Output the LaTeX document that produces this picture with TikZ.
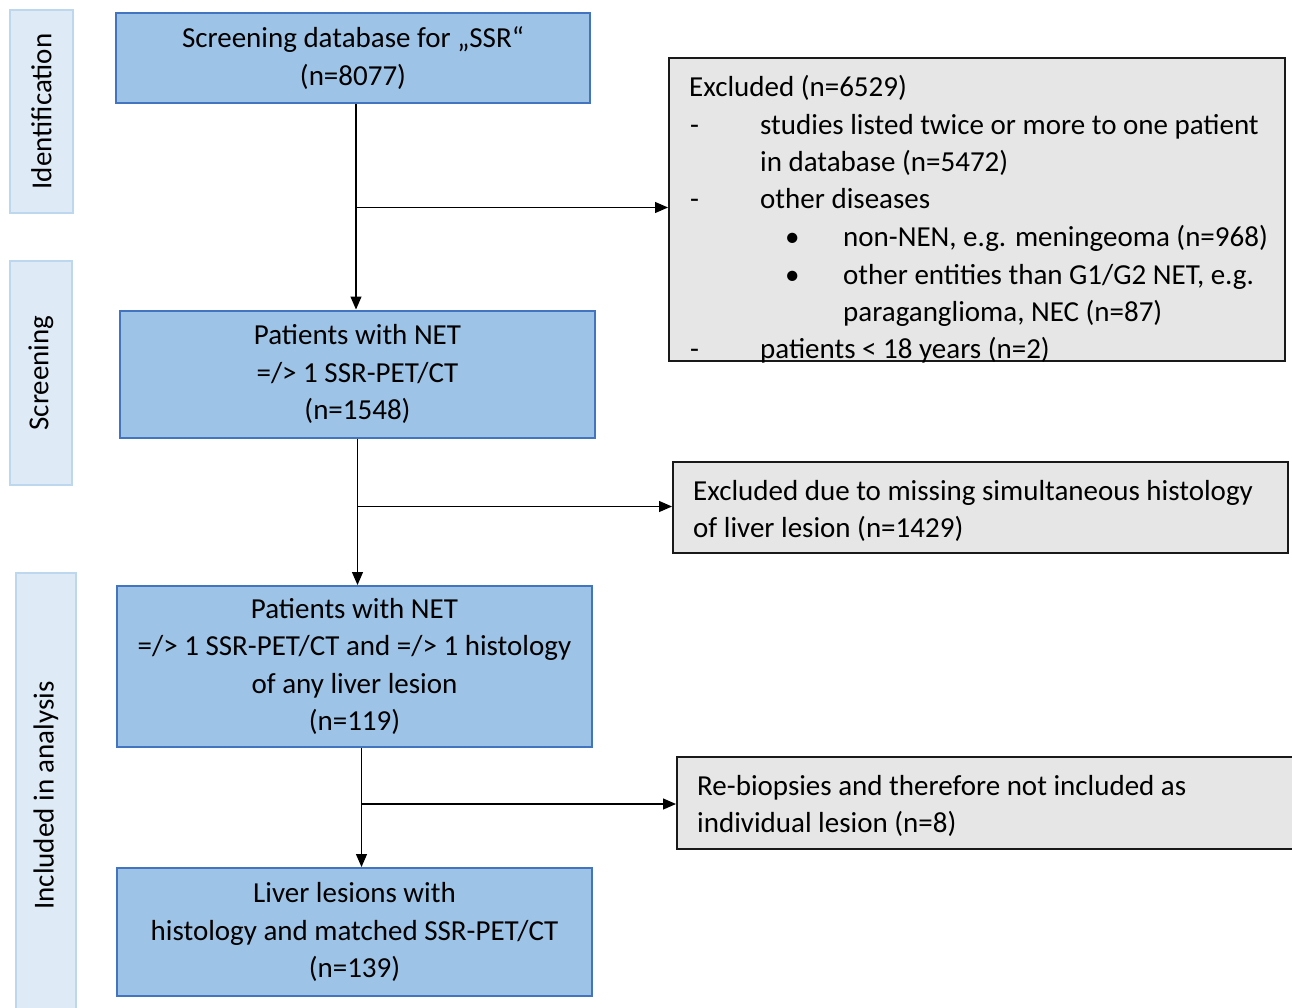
\documentclass[tikz,border=0pt]{standalone}
\usepackage{fontspec}
\setmainfont{Carlito}
\usetikzlibrary{arrows.meta}
\definecolor{boxblue}{HTML}{9DC3E6}
\definecolor{boxborder}{HTML}{4274BF}
\definecolor{sidefill}{HTML}{DEEBF7}
\definecolor{sideborder}{HTML}{BDD7EE}
\definecolor{greyfill}{HTML}{E7E6E6}
\begin{document}
\begin{tikzpicture}[x=1pt,y=-1pt,
  txt/.style={font=\fontsize{29}{37.5}\selectfont},
  flowbox/.style={draw=boxborder, line width=2pt, fill=boxblue, align=center, inner sep=0pt, txt},
  sidebox/.style={draw=sideborder, line width=2pt, fill=sidefill, inner sep=0pt, txt, rotate=90},
  exclbox/.style={draw=black!90, line width=2pt, fill=greyfill, inner sep=0pt},
  arr/.style={line width=1.2pt, -{Triangle[length=13pt,width=11pt]}},
  lt/.style={anchor=base west, inner sep=0pt, txt}]
\useasboundingbox (0,0) rectangle (1292,1008);
\fill[white] (0,0) rectangle (1292,1008);

% phase labels
\node[sidebox, minimum width=203pt, minimum height=63pt] (sid) at (41.5,111.5) {Identification};
\node[sidebox, minimum width=224pt, minimum height=62pt] (ssc) at (41,373) {Screening};
\node[sidebox, minimum width=445pt, minimum height=60pt] (sin) at (46,795.5) {Included in analysis};

% main flow boxes
\node[flowbox, minimum width=474pt, minimum height=90pt] (b1) at (353,58) {Screening database for „SSR“\\(n=8077)};
\node[flowbox, minimum width=475pt, minimum height=127pt] (b2) at (357.5,374) {Patients with NET\\=/> 1 SSR-PET/CT\\(n=1548)};
\node[flowbox, minimum width=475pt, minimum height=161pt] (b3) at (354.5,666.5) {Patients with NET\\=/> 1 SSR-PET/CT and =/> 1 histology\\of any liver lesion\\(n=119)};
\node[flowbox, minimum width=475pt, minimum height=128pt] (b4) at (354.5,932) {Liver lesions with\\histology and matched SSR-PET/CT\\(n=139)};

% exclusion boxes
\node[exclbox, minimum width=616pt, minimum height=303pt] (e1) at (977,209.5) {};
\node[exclbox, minimum width=615pt, minimum height=91pt] (e2) at (980.5,507.5) {};
\node[exclbox, minimum width=625pt, minimum height=92pt] (e3) at (989.5,803) {};

% text of first exclusion box
\node[lt] (t1) at (689,97) {Excluded (n=6529)};
\node[lt] (d1) at (690,135) {-};
\node[lt] (t2) at (760,135) {studies listed twice or more to one patient};
\node[lt] (t3) at (760,172) {in database (n=5472)};
\node[lt] (d2) at (690,209) {-};
\node[lt] (t4) at (760,209) {other diseases};
\node[lt] (u1) at (785,246.5) {\textbullet};
\node[lt] (t5) at (843,246.5) {non-NEN, e.g. meningeoma (n=968)};
\node[lt] (u2) at (785,284) {\textbullet};
\node[lt] (t6) at (843,284) {other entities than G1/G2 NET, e.g.};
\node[lt] (t7) at (843,321) {paraganglioma, NEC (n=87)};
\node[lt] (d3) at (690,358) {-};
\node[lt] (t8) at (760,358) {patients < 18 years (n=2)};

% text of second and third exclusion boxes
\node[lt] (x1) at (693,500) {Excluded due to missing simultaneous histology};
\node[lt] (x2) at (693,537) {of liver lesion (n=1429)};
\node[lt] (r1) at (697,795) {Re-biopsies and therefore not included as};
\node[lt] (r2) at (697,832) {individual lesion (n=8)};

% connectors
\coordinate (j1) at (356,207.5);
\coordinate (j2) at (357.5,506.5);
\coordinate (j3) at (361.5,804);
\draw[arr] (b1.south -| j1) -- (b2.north -| j1);
\draw[arr] (j1) -- (j1 -| e1.west);
\draw[arr] (b2.south -| j2) -- (b3.north -| j2);
\draw[arr] (j2) -- (j2 -| e2.west);
\draw[arr] (b3.south -| j3) -- (b4.north -| j3);
\draw[arr] (j3) -- (j3 -| e3.west);
\end{tikzpicture}
\end{document}
